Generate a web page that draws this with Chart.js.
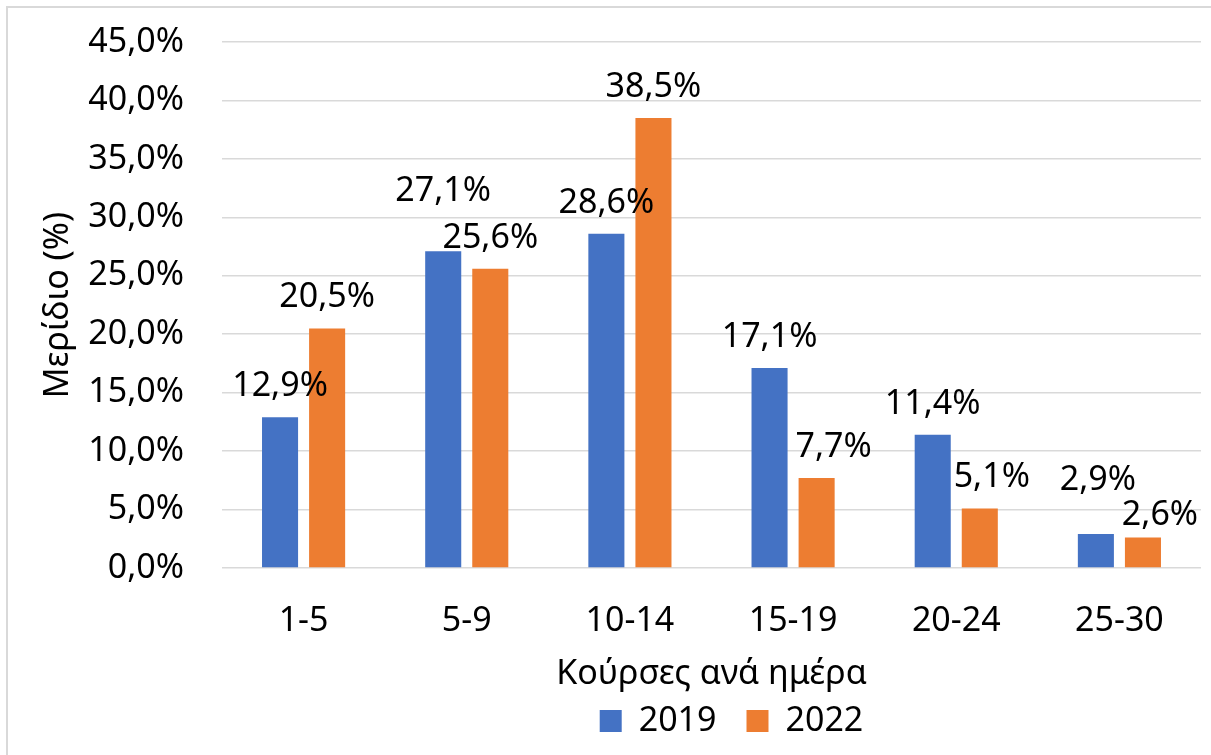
<!DOCTYPE html>
<html>
<head>
    <title>Κούρσες ανά ημέρα</title>
    <script src="https://cdn.jsdelivr.net/npm/chart.js"></script>
    <style>
        html, body { margin: 0; padding: 0; background: #fff; }
        #wrap { width: 1211px; height: 755px; }
    </style>
</head>
<body>
    <div id="wrap"><canvas id="tripsChart"></canvas></div>
    <script>
        const categories = ['1-5', '5-9', '10-14', '15-19', '20-24', '25-30'];
        const values2019 = [12.9, 27.1, 28.6, 17.1, 11.4, 2.9];
        const values2022 = [20.5, 25.6, 38.5, 7.7, 5.1, 2.6];
        const yMin = 0, yMax = 45, yStep = 5;

        // hand-placed value labels in the original: offsets from bar top (px)
        const labelDx = [[0, 0, 0, 0, 0, 2], [0, 0, 0, 17, 12, 17]];
        const labelDy = [[-21, -50, -21, -21, -21, -44], [-21, -21, -21, -21, -21, -13]];

        const pct = v => v.toFixed(1).replace('.', ',') + '%';

        Chart.defaults.font.family = "'Noto Sans', sans-serif";
        Chart.defaults.font.size = 34;
        Chart.defaults.color = '#000';

        // white background + thin grey frame like the original
        const frame = {
            id: 'frame',
            beforeDraw(chart) {
                const ctx = chart.ctx;
                ctx.save();
                ctx.fillStyle = '#fff';
                ctx.fillRect(0, 0, chart.width, chart.height);
                ctx.strokeStyle = '#d9d9d9';
                ctx.lineWidth = 2;
                ctx.beginPath();
                ctx.moveTo(7, chart.height + 5);
                ctx.lineTo(7, 7);
                ctx.lineTo(chart.width + 5, 7);
                ctx.stroke();
                ctx.restore();
            }
        };

        // legend sits a little right of centre in the original
        const nudgeLegend = {
            id: 'nudgeLegend',
            afterLayout(chart) {
                if (chart.legend) {
                    chart.legend.left += 20;
                    chart.legend.right += 20;
                }
            }
        };

        // value labels above each bar
        const barLabels = {
            id: 'barLabels',
            afterDatasetsDraw(chart) {
                const ctx = chart.ctx;
                ctx.save();
                ctx.font = "34px 'Noto Sans', sans-serif";
                ctx.fillStyle = '#000';
                ctx.textAlign = 'center';
                ctx.textBaseline = 'alphabetic';
                chart.data.datasets.forEach((ds, i) => {
                    chart.getDatasetMeta(i).data.forEach((bar, j) => {
                        ctx.fillText(pct(ds.data[j]), bar.x + labelDx[i][j], bar.y + labelDy[i][j]);
                    });
                });
                ctx.restore();
            }
        };

        new Chart(document.getElementById('tripsChart'), {
            type: 'bar',
            data: {
                labels: categories,
                datasets: [{
                    label: '2019',
                    data: values2019,
                    backgroundColor: '#4472C4',
                    borderWidth: 0,
                    categoryPercentage: 0.577,
                    barPercentage: 0.766
                }, {
                    label: '2022',
                    data: values2022,
                    backgroundColor: '#ED7D31',
                    borderWidth: 0,
                    categoryPercentage: 0.577,
                    barPercentage: 0.766
                }]
            },
            options: {
                responsive: true,
                maintainAspectRatio: false,
                animation: false,
                layout: { padding: { top: 42, left: 0, right: 10, bottom: 7 } },
                plugins: {
                    legend: {
                        position: 'bottom',
                        fullSize: false,
                        labels: { boxWidth: 22, boxHeight: 22, padding: 30, font: { size: 34 } }
                    },
                    tooltip: { enabled: false }
                },
                scales: {
                    x: {
                        grid: { display: false },
                        border: { display: false },
                        ticks: { padding: 25, font: { size: 34 } },
                        title: {
                            display: true,
                            text: 'Κούρσες ανά ημέρα',
                            font: { size: 34, lineHeight: 1 },
                            padding: { top: 0, bottom: -17 }
                        },
                        afterFit: s => { s.height = 106; }
                    },
                    y: {
                        min: yMin,
                        max: yMax,
                        ticks: { stepSize: yStep, padding: 0, callback: v => pct(v), font: { size: 34 } },
                        grid: { color: '#d9d9d9', lineWidth: 1.5, drawTicks: true, tickLength: 38, tickColor: 'rgba(0,0,0,0)' },
                        border: { display: false },
                        title: {
                            display: true,
                            text: 'Μερίδιο (%)',
                            font: { size: 34, lineHeight: 1 },
                            padding: { top: 41, bottom: 0 }
                        },
                        afterFit: s => { s.width = 222; }
                    }
                }
            },
            plugins: [frame, nudgeLegend, barLabels]
        });
    </script>
</body>
</html>
